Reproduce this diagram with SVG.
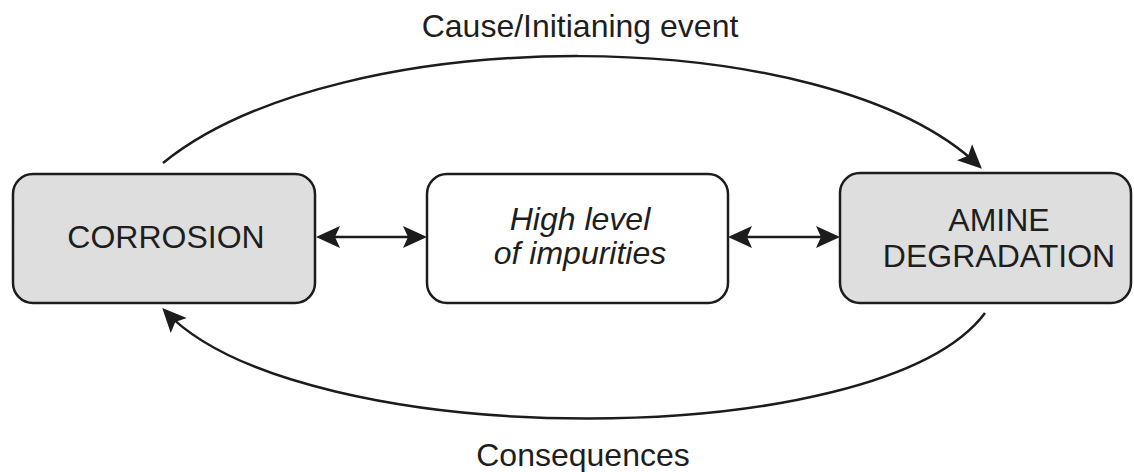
<svg xmlns="http://www.w3.org/2000/svg" width="1134" height="472" viewBox="0 0 1134 472">
  <style>
    .box { stroke: #1c1c1c; stroke-width: 2.5; }
    .grey { fill: #dedede; }
    .white { fill: #ffffff; }
    .lbl { font-family: "Liberation Sans", Arial, sans-serif; font-size: 32px; fill: #1e1e1e; text-anchor: middle; }
    .it { font-style: italic; }
    .con { fill: none; stroke: #1c1c1c; stroke-width: 2.5; }
  </style>
  <defs>
    <marker id="ah" markerUnits="userSpaceOnUse" viewBox="-22 -12 28 24" refX="0" refY="0" markerWidth="28" markerHeight="24" orient="auto-start-reverse">
      <path d="M4,0 L-20,-11 L-15,0 L-20,11 Z" fill="#1c1c1c"/>
    </marker>
  </defs>
  <rect width="1134" height="472" fill="#ffffff"/>

  <g id="connectors">
    <path class="con" d="M163,163 C 339,20 826,20 979,166" marker-end="url(#ah)"/>
    <path class="con" d="M985,313 C 880,454 300,454 165,311" marker-end="url(#ah)"/>
    <path class="con" d="M320,237 L423,237" marker-start="url(#ah)" marker-end="url(#ah)"/>
    <path class="con" d="M732,237 L836,237" marker-start="url(#ah)" marker-end="url(#ah)"/>
  </g>

  <g id="corrosion">
    <rect class="box grey" x="13" y="174" width="302" height="129" rx="20" ry="20"/>
    <text class="lbl" x="166" y="248">CORROSION</text>
  </g>

  <g id="impurities">
    <rect class="box white" x="427" y="174" width="301" height="129" rx="20" ry="20"/>
    <text class="lbl it" x="580" y="230">High level</text>
    <text class="lbl it" x="580" y="264">of impurities</text>
  </g>

  <g id="amine">
    <rect class="box grey" x="840" y="173" width="291" height="130" rx="20" ry="20"/>
    <text class="lbl" x="999" y="231">AMINE</text>
    <text class="lbl" x="999" y="267">DEGRADATION</text>
  </g>

  <g id="label-cause">
    <text class="lbl" x="580" y="37">Cause/Initianing event</text>
  </g>
  <g id="label-consequences">
    <text class="lbl" x="583" y="466">Consequences</text>
  </g>
</svg>
